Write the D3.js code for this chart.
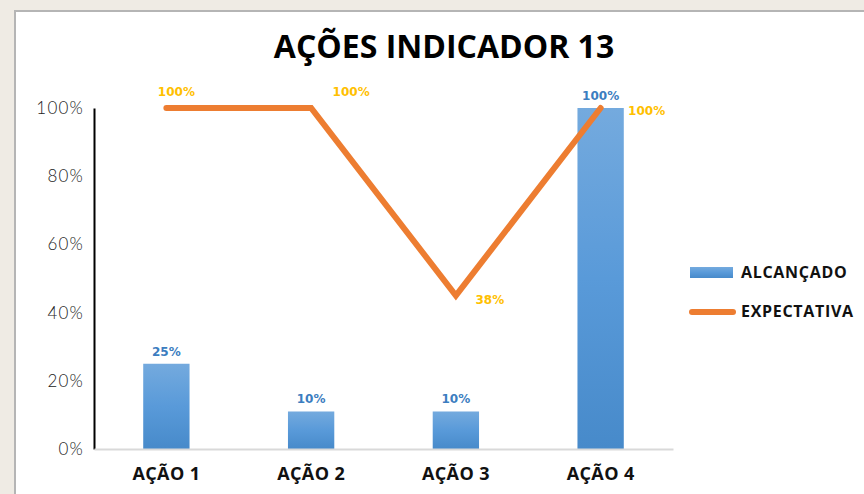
<!DOCTYPE html>
<html lang="pt">
  <head>
    <meta charset="utf-8">
    <title>Ações Indicador 13</title>
    <style>
      body { margin: 0; background: #efebe4; }
      svg { display: block; }
    </style>
  </head>
  <body>
    <svg width="864" height="494"></svg>
    <script src="https://cdn.jsdelivr.net/npm/d3@7"></script>
    <script>
      // data
      const categories = ['AÇÃO 1', 'AÇÃO 2', 'AÇÃO 3', 'AÇÃO 4'];
      const alcancado = [25, 11, 11, 100];
      const alcancado_labels = ['25%', '10%', '10%', '100%'];
      const expectativa = [100, 100, 45, 100];
      const expectativa_labels = ['100%', '100%', '38%', '100%'];
      const y_ticks = [0, 20, 40, 60, 80, 100];

      const svg = d3.select('svg');
      const margin = {top: 108, left: 94, bottom: 45};
      const plot_w = 579;
      const svg_height = +svg.attr('height');

      // white panel with grey border
      svg.append('rect')
        .attr('x', 15).attr('y', 11)
        .attr('width', 900).attr('height', 600)
        .attr('fill', '#fff')
        .attr('stroke', '#b5b5b5')
        .attr('stroke-width', 2);

      const defs = svg.append('defs');
      const grad = defs.append('linearGradient')
        .attr('id', 'bar_grad')
        .attr('x1', 0).attr('y1', 0).attr('x2', 0).attr('y2', 1);
      grad.append('stop').attr('offset', '0%').attr('stop-color', '#74aade');
      grad.append('stop').attr('offset', '50%').attr('stop-color', '#599ad9');
      grad.append('stop').attr('offset', '100%').attr('stop-color', '#478aca');

      const x_scale = d3.scaleBand()
        .domain(categories)
        .range([margin.left, margin.left + plot_w])
        .paddingInner(0.68)
        .paddingOuter(0.34);

      const y_scale = d3.scaleLinear()
        .domain([0, 100])
        .range([svg_height - margin.bottom, margin.top]);

      // title
      svg.append('text')
        .attr('x', 444).attr('y', 58)
        .attr('text-anchor', 'middle')
        .attr('font-family', 'Open Sans')
        .attr('font-weight', 700)
        .attr('font-size', '32px')
        .attr('letter-spacing', '0px')
        .attr('fill', '#000')
        .text('AÇÕES INDICADOR 13');

      // y axis
      const y_axis = d3.axisLeft(y_scale)
        .tickValues(y_ticks)
        .tickSize(0)
        .tickPadding(10)
        .tickFormat(d => d + '%');
      const y_axis_g = svg.append('g')
        .attr('transform', `translate(${margin.left},0)`)
        .call(y_axis);
      y_axis_g.select('.domain')
        .attr('stroke', '#000')
        .attr('stroke-width', 2);
      y_axis_g.selectAll('text')
        .attr('font-family', 'Lato')
        .attr('font-weight', 300)
        .attr('font-size', '17px')
        .attr('letter-spacing', '1.2px')
        .attr('fill', '#222');

      // bars
      svg.append('g').selectAll('rect')
        .data(alcancado).enter()
        .append('rect')
          .attr('x', (d, i) => x_scale(categories[i]))
          .attr('y', d => y_scale(d))
          .attr('width', x_scale.bandwidth())
          .attr('height', d => y_scale(0) - y_scale(d))
          .attr('fill', 'url(#bar_grad)');

      // x axis baseline
      const x_axis = d3.axisBottom(x_scale).tickSize(0).tickPadding(18);
      const x_axis_g = svg.append('g')
        .attr('transform', `translate(0,${y_scale(0)})`)
        .call(x_axis);
      x_axis_g.select('.domain')
        .attr('stroke', '#d9d9d9')
        .attr('stroke-width', 2);
      x_axis_g.selectAll('text')
        .attr('font-family', 'Open Sans')
        .attr('font-weight', 700)
        .attr('font-size', '18px')
        .attr('letter-spacing', '0.4px')
        .attr('fill', '#111');

      // bar labels
      svg.append('g').selectAll('text')
        .data(alcancado).enter()
        .append('text')
          .attr('x', (d, i) => x_scale(categories[i]) + x_scale.bandwidth() / 2)
          .attr('y', d => y_scale(d) - 8)
          .attr('text-anchor', 'middle')
          .attr('font-family', 'DejaVu Sans')
          .attr('font-weight', 700)
          .attr('font-size', '12px')
          .attr('fill', '#3b7dc0')
          .text((d, i) => alcancado_labels[i]);

      // expectativa line
      const cx = (d, i) => x_scale(categories[i]) + x_scale.bandwidth() / 2;
      const line = d3.line()
        .x(cx)
        .y(d => y_scale(d));
      svg.append('path')
        .datum(expectativa)
        .attr('d', line)
        .attr('fill', 'none')
        .attr('stroke', '#ed7d31')
        .attr('stroke-width', 6)
        .attr('stroke-linecap', 'round')
        .attr('stroke-linejoin', 'miter');

      // line labels: above, above-right, right-below, right
      const lab_off = [[10, -12], [40, -12], [34, 8], [46, 7]];
      svg.append('g').selectAll('text')
        .data(expectativa).enter()
        .append('text')
          .attr('x', (d, i) => cx(d, i) + lab_off[i][0])
          .attr('y', d => y_scale(d))
          .attr('dy', (d, i) => lab_off[i][1])
          .attr('text-anchor', 'middle')
          .attr('font-family', 'DejaVu Sans')
          .attr('font-weight', 700)
          .attr('font-size', '12px')
          .attr('fill', '#ffc000')
          .text((d, i) => expectativa_labels[i]);

      // legend
      const legend = svg.append('g').attr('transform', 'translate(690,0)');
      legend.append('rect')
        .attr('x', 0).attr('y', 267)
        .attr('width', 43).attr('height', 11)
        .attr('fill', 'url(#bar_grad)');
      legend.append('line')
        .attr('x1', 2).attr('x2', 43)
        .attr('y1', 312).attr('y2', 312)
        .attr('stroke', '#ed7d31')
        .attr('stroke-width', 6)
        .attr('stroke-linecap', 'round');
      legend.selectAll('text.leg')
        .data(['ALCANÇADO', 'EXPECTATIVA']).enter()
        .append('text')
          .attr('class', 'leg')
          .attr('x', 51)
          .attr('y', (d, i) => 278 + i * 39)
          .attr('font-family', 'Open Sans')
          .attr('font-weight', 700)
          .attr('font-size', '16px')
          .attr('letter-spacing', '0.7px')
          .attr('fill', '#111')
          .text(d => d);
    </script>
  </body>
</html>
